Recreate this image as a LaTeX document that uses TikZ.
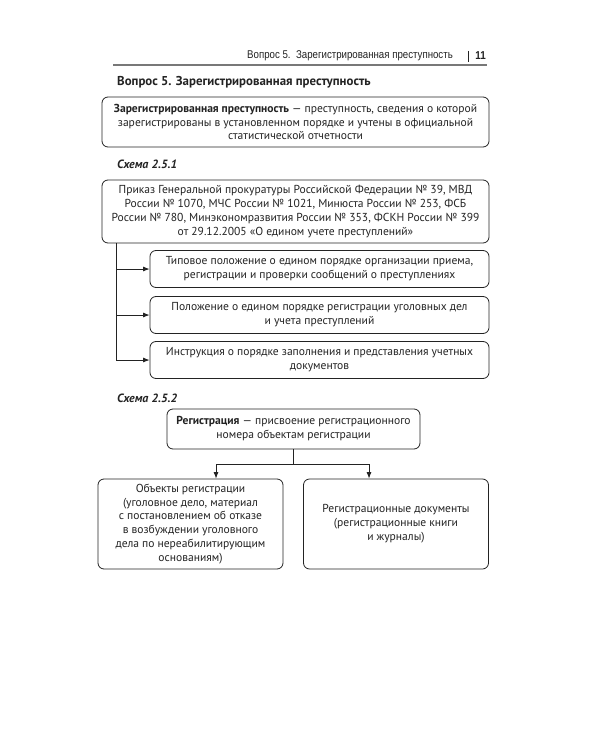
\documentclass[tikz,border=0pt]{standalone}
\usepackage{fontspec}
\setmainfont{PT Sans}
\newfontfamily\narrowfont[FakeStretch=0.86]{Liberation Sans}
\usetikzlibrary{arrows.meta,calc,positioning}
\definecolor{ink}{RGB}{35,35,35}
\definecolor{rulegray}{RGB}{120,120,120}
\tikzset{
  box/.style={rectangle,rounded corners=6bp,draw=ink,line width=0.8bp,
    align=center,inner sep=2bp,text=ink,
    font=\fontsize{11.6}{14}\selectfont},
  % width and height of each box are set in bp, taken from the page
  wide/.style={minimum width=387bp,minimum height=#1},
  sub/.style={minimum width=339bp,minimum height=37bp},
  half/.style={minimum width=185bp,minimum height=90bp},
  schema/.style={anchor=west,font=\fontsize{12}{14}\selectfont\bfseries\itshape,text=ink,inner sep=0pt},
  arr/.style={-{Latex[length=6.5bp,width=5bp]},line width=0.8bp,draw=ink},
  link/.style={line width=0.8bp,draw=ink}
}
\begin{document}
\begin{tikzpicture}[x=1bp,y=-1bp]
  \useasboundingbox[fill=white] (0,0) rectangle (600,750);
  % running head
  \node[anchor=east,inner sep=0pt,text=ink,font=\narrowfont\fontsize{11.3}{13}\selectfont]
    (head) at (453,56) {Вопрос 5.\ \ Зарегистрированная преступность};
  \draw[line width=0.8bp,ink] (468,51) -- (468,62);
  \node[anchor=east,inner sep=0pt,text=ink,font=\narrowfont\fontsize{11.5}{13}\selectfont\bfseries]
    (page) at (486,56) {11};
  \draw[line width=1.4bp,rulegray] (113,65) -- (487,65);
  \node[anchor=west,inner sep=0pt,text=ink,font=\fontsize{12.9}{16}\selectfont\bfseries]
    (title) at (117,82) {Вопрос 5. Зарегистрированная преступность};

  % definition
  \node[box,wide=50bp] (defn) at (295.5,122)
    {\textbf{Зарегистрированная преступность} — преступность, сведения о которой\\
     зарегистрированы в установленном порядке и учтены в официальной\\
     статистической отчетности};

  % scheme 2.5.1
  \node[schema] (s1) at (117,164) {Схема 2.5.1};
  \node[box,wide=63bp] (order) at (295.5,211.5)
    {Приказ Генеральной прокуратуры Российской Федерации № 39, МВД\\
     России № 1070, МЧС России № 1021, Минюста России № 253, ФСБ\\
     России № 780, Минэкономразвития России № 353, ФСКН России № 399\\
     от 29.12.2005 «О едином учете преступлений»};
  \node[box,sub] (typ) at (319.5,269)
    {Типовое положение о едином порядке организации приема,\\
     регистрации и проверки сообщений о преступлениях};
  \node[box,sub] (pol) at (319.5,315)
    {Положение о едином порядке регистрации уголовных дел\\
     и учета преступлений};
  \node[box,sub] (instr) at (319.5,360)
    {Инструкция о порядке заполнения и представления учетных\\
     документов};
  \coordinate (trunk) at (116,360);
  \draw[link] (order.south -| trunk) -- (trunk);
  \foreach \n in {typ,pol,instr}
    \draw[arr] (\n.west -| trunk) -- (\n.west);

  % scheme 2.5.2
  \node[schema] (s2) at (117,398) {Схема 2.5.2};
  \node[box,minimum width=253bp,minimum height=40bp] (reg) at (293.5,429)
    {\textbf{Регистрация} — присвоение регистрационного\\
     номера объектам регистрации};
  \node[box,half] (objs) at (190.5,524)
    {Объекты регистрации\\
     (уголовное дело, материал\\
     с постановлением об отказе\\
     в возбуждении уголовного\\
     дела по нереабилитирующим\\
     основаниям)};
  \node[box,half] (docs) at (396,524)
    {Регистрационные документы\\
     (регистрационные книги\\
     и журналы)};
  \coordinate (jl) at (216,464);
  \coordinate (jr) at (369,464);
  \draw[link] (reg.south) -- (reg.south |- jl);
  \draw[arr] (jr) -- (jl) -- (jl |- objs.north);
  \draw[arr] (jr) -- (jr |- docs.north);
\end{tikzpicture}
\end{document}
